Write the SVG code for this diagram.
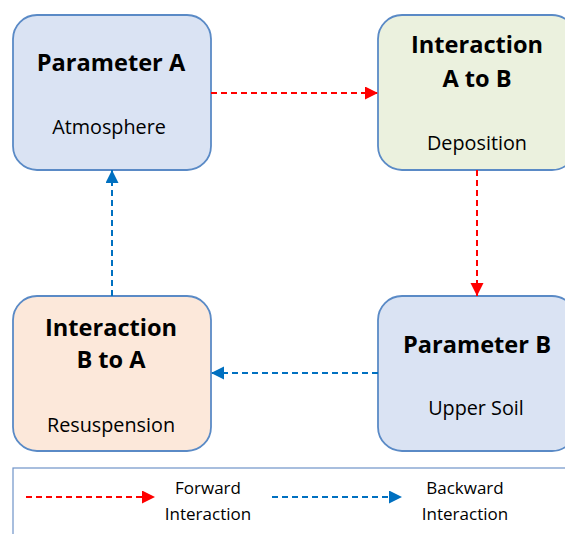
<svg xmlns="http://www.w3.org/2000/svg" width="565" height="534" viewBox="0 0 565 534">
<style>
.box{stroke:#5a8ac6;stroke-width:1.8}
.t{font-family:"Open Sans","Liberation Sans",sans-serif;fill:#000;text-anchor:middle}
.h{font-weight:bold;font-size:23.6px}
.s{font-size:19.8px}
.l{font-size:17px}
.red{stroke:#ff0000;stroke-width:2;stroke-dasharray:6 4;fill:none}
.blue{stroke:#0070c0;stroke-width:2;stroke-dasharray:6 4;fill:none}
</style>
<defs>
<marker id="ar" markerUnits="userSpaceOnUse" markerWidth="14" markerHeight="14" refX="13" refY="6.5" orient="auto"><path d="M0,0 L13,6.5 L0,13 z" fill="#ff0000"/></marker>
<marker id="ab" markerUnits="userSpaceOnUse" markerWidth="14" markerHeight="14" refX="13" refY="6.5" orient="auto"><path d="M0,0 L13,6.5 L0,13 z" fill="#0070c0"/></marker>
</defs>
<rect width="565" height="534" fill="#fff"/>
<g id="paramA">
<rect class="box" x="13" y="15" width="198" height="155" rx="24" fill="#dae3f3"/>
<text class="t h" x="111" y="71">Parameter A</text>
<text class="t s" x="109" y="134">Atmosphere</text>
</g>
<g id="interAB">
<rect class="box" x="378" y="15" width="198" height="155" rx="24" fill="#ebf1de"/>
<text class="t h" x="477" y="53">Interaction</text>
<text class="t h" x="477" y="87">A to B</text>
<text class="t s" x="477" y="150">Deposition</text>
</g>
<g id="interBA">
<rect class="box" x="13" y="296" width="198" height="155" rx="24" fill="#fce8da"/>
<text class="t h" x="111" y="336">Interaction</text>
<text class="t h" x="111" y="368">B to A</text>
<text class="t s" x="111" y="432">Resuspension</text>
</g>
<g id="paramB">
<rect class="box" x="378" y="296" width="198" height="155" rx="24" fill="#dae3f3"/>
<text class="t h" x="477" y="353">Parameter B</text>
<text class="t s" x="476" y="415">Upper Soil</text>
</g>
<g id="connectors">
<line class="red" x1="211" y1="93" x2="378" y2="93" marker-end="url(#ar)"/>
<line class="red" x1="477" y1="170" x2="477" y2="296" marker-end="url(#ar)"/>
<line class="blue" x1="378" y1="373" x2="211" y2="373" marker-end="url(#ab)"/>
<line class="blue" x1="112" y1="296" x2="112" y2="170" marker-end="url(#ab)"/>
</g>
<g id="legend">
<rect x="13" y="468" width="600" height="100" fill="none" stroke="#6f93c8" stroke-width="1.2"/>
<line class="red" x1="26" y1="497" x2="155" y2="497" marker-end="url(#ar)"/>
<text class="t l" x="208" y="494">Forward</text>
<text class="t l" x="208" y="520">Interaction</text>
<line class="blue" x1="272" y1="497" x2="402" y2="497" marker-end="url(#ab)"/>
<text class="t l" x="465" y="494">Backward</text>
<text class="t l" x="465" y="520">Interaction</text>
</g>
</svg>
